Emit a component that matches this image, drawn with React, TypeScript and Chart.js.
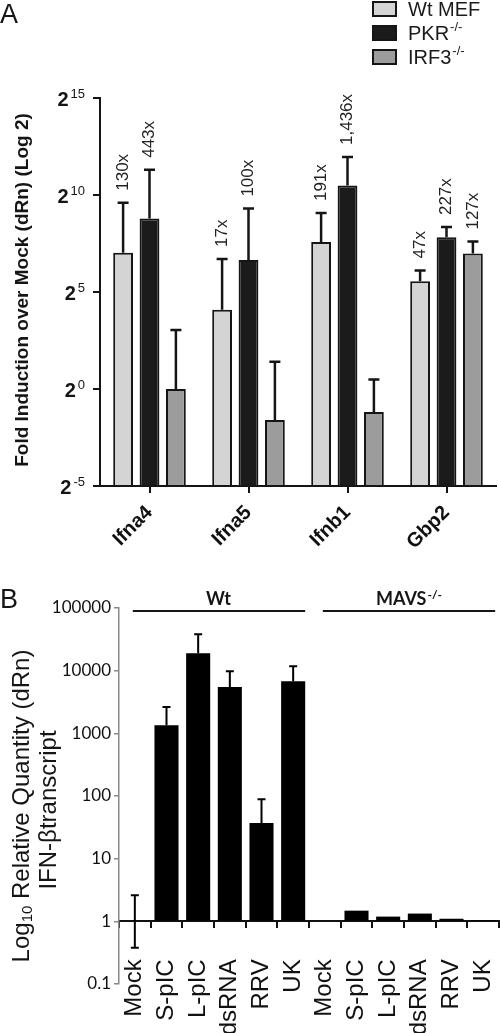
import React, { useEffect, useRef } from 'react';
import { Chart, registerables } from 'chart.js';

Chart.register(...registerables);

// ---------- Panel A data ----------
const genesA = ['Ifna4', 'Ifna5', 'Ifnb1', 'Gbp2'];
const seriesNamesA = ['Wt MEF', 'PKR-/-', 'IRF3-/-'];
const wtFold = [130, 17, 191, 47];
const wtErrHigh = [776, 104, 537, 69];
const pkrFold = [443, 100, 1436, 227];
const pkrErrHigh = [2520, 630, 3980, 326];
const irf3Fold = [1, 0.33, 0.44, 127];
const irf3ErrHigh = [8.2, 2.64, 1.41, 194];
const wtNotes = ['130x', '17x', '191x', '47x'];
const pkrNotes = ['443x', '100x', '1,436x', '227x'];
const irf3Notes = ['', '', '', '127x'];
const log2Exponents = [-5, 0, 5, 10, 15];
const yTitleA = 'Fold Induction over Mock (dRn) (Log 2)';

// ---------- Panel B data ----------
const treatmentsB = ['Mock', 'S-pIC', 'L-pIC', 'dsRNA', 'RRV', 'UK', 'Mock', 'S-pIC', 'L-pIC', 'dsRNA', 'RRV', 'UK'];
const ifnbQuantity = [1, 1350, 19000, 5500, 37, 6800, 1, 1.48, 1.19, 1.33, 1.1, 1.05];
const ifnbErrHigh = [2.6, 2630, 38000, 9800, 89, 11800, null, null, null, null, null, null];
const ifnbErrLow = [0.38, null, null, null, null, null, null, null, null, null, null, null];
const log10TicksB = [0.1, 1, 10, 100, 1000, 10000, 100000];
const log10TickLabelsB = ['0.1', '1', '10', '100', '1000', '10000', '100000'];
const groupNamesB = ['Wt', 'MAVS-/-'];
const groupStartB = [0, 6];
const groupEndB = [5, 11];

const ARIAL = "'Liberation Sans', Arial, sans-serif";
const CALIBRI = "Lato, 'Open Sans', sans-serif";
const INK = '#151515';

function splitSup(text: string): [string, string] {
  const i = text.indexOf('-/-');
  return i >= 0 ? [text.slice(0, i), text.slice(i)] : [text, ''];
}

function drawSupText(ctx: CanvasRenderingContext2D, text: string, x: number, y: number, font: string, supFont: string, rise: number, align: 'left' | 'center') {
  const [base, sup] = splitSup(text);
  ctx.font = font;
  const wb = ctx.measureText(base).width;
  ctx.font = supFont;
  const ws = sup ? ctx.measureText(sup).width : 0;
  const sx = align === 'center' ? x - (wb + ws + 1) / 2 : x;
  ctx.textAlign = 'left';
  ctx.font = font;
  ctx.fillText(base, sx, y);
  if (sup) {
    ctx.font = supFont;
    ctx.fillText(sup, sx + wb + 1, y - rise);
  }
}

const errorBarPlugin = {
  id: 'errorBars',
  afterDatasetsDraw(chart: any, _args: any, opts: any) {
    const { ctx } = chart;
    const yScale = chart.scales.y;
    const cap = opts.cap ?? 10;
    ctx.save();
    ctx.strokeStyle = opts.color ?? INK;
    ctx.lineWidth = opts.width ?? 2;
    chart.data.datasets.forEach((ds: any, di: number) => {
      const meta = chart.getDatasetMeta(di);
      meta.data.forEach((bar: any, i: number) => {
        const hi = ds.errHigh ? ds.errHigh[i] : null;
        const lo = ds.errLow ? ds.errLow[i] : null;
        const cx = bar.x;
        [hi, lo].forEach((v) => {
          if (v == null) return;
          const py = yScale.getPixelForValue(v);
          ctx.beginPath();
          ctx.moveTo(cx, bar.y);
          ctx.lineTo(cx, py);
          ctx.moveTo(cx - cap / 2, py);
          ctx.lineTo(cx + cap / 2, py);
          ctx.stroke();
        });
      });
    });
    ctx.restore();
  },
};

const panelAPlugin = {
  id: 'panelA',
  afterDraw(chart: any) {
    const { ctx } = chart;
    const yScale = chart.scales.y;
    ctx.save();
    ctx.fillStyle = INK;
    ctx.font = `27px ${ARIAL}`;
    ctx.textAlign = 'left';
    ctx.textBaseline = 'alphabetic';
    ctx.fillText('A', 0, 23);

    // y tick labels 2^n
    const rightEdge = yScale.left + 85;
    log2Exponents.forEach((e) => {
      const py = yScale.getPixelForValue(Math.pow(2, e));
      const exp = String(e);
      ctx.textBaseline = 'middle';
      ctx.textAlign = 'right';
      ctx.font = `13px ${ARIAL}`;
      const we = ctx.measureText(exp).width;
      ctx.fillText(exp, rightEdge, py - 4);
      ctx.font = `bold 20px ${ARIAL}`;
      ctx.fillText('2', rightEdge - we - 2, py + 2);
    });

    // y title
    ctx.save();
    ctx.translate(23, (yScale.top + yScale.bottom) / 2 - 2);
    ctx.rotate(-Math.PI / 2);
    ctx.font = `bold 19px ${ARIAL}`;
    ctx.textAlign = 'center';
    ctx.textBaseline = 'middle';
    ctx.fillText(yTitleA, 0, 0);
    ctx.restore();

    // fold annotations
    chart.data.datasets.forEach((ds: any, di: number) => {
      const meta = chart.getDatasetMeta(di);
      meta.data.forEach((bar: any, i: number) => {
        const note = ds.notes ? ds.notes[i] : '';
        if (!note) return;
        const top = yScale.getPixelForValue(ds.errHigh[i]);
        ctx.save();
        ctx.translate(bar.x, top - 12);
        ctx.rotate(-Math.PI / 2);
        ctx.font = `17px ${ARIAL}`;
        ctx.textAlign = 'left';
        ctx.textBaseline = 'middle';
        ctx.fillStyle = '#222';
        ctx.fillText(note, 0, 0);
        ctx.restore();
      });
    });

    // legend
    chart.data.datasets.forEach((ds: any, di: number) => {
      const bx = 372;
      const by = 1 + di * 24;
      ctx.fillStyle = ds.backgroundColor;
      ctx.fillRect(bx, by, 25, 16);
      ctx.strokeStyle = INK;
      ctx.lineWidth = 2;
      ctx.strokeRect(bx + 1, by + 1, 23, 14);
      ctx.fillStyle = '#1a1a1a';
      ctx.textBaseline = 'middle';
      drawSupText(ctx, ds.label, 408, by + 9, `20px ${ARIAL}`, `13px ${ARIAL}`, 7, 'left');
    });
    ctx.restore();
  },
};

const panelBPlugin = {
  id: 'panelB',
  afterDraw(chart: any) {
    const { ctx } = chart;
    const xScale = chart.scales.x;
    const yScale = chart.scales.y;
    ctx.save();
    ctx.fillStyle = INK;
    ctx.font = `27px ${ARIAL}`;
    ctx.textAlign = 'left';
    ctx.textBaseline = 'alphabetic';
    ctx.fillText('B', 0, 43);

    // group brackets
    const lineY = yScale.top + 3;
    groupNamesB.forEach((name, gi) => {
      const x0 = xScale.getPixelForValue(groupStartB[gi]) - 2;
      const x1 = xScale.getPixelForValue(groupEndB[gi]) + 12;
      ctx.strokeStyle = INK;
      ctx.lineWidth = 2;
      ctx.beginPath();
      ctx.moveTo(x0, lineY);
      ctx.lineTo(x1, lineY);
      ctx.stroke();
      ctx.fillStyle = INK;
      ctx.textBaseline = 'alphabetic';
      drawSupText(ctx, name, (x0 + x1) / 2, lineY - 6, `bold 18px ${CALIBRI}`, `bold 12px ${CALIBRI}`, 6, 'center');
    });

    // y title (two lines, first with subscript)
    const cy = (yScale.top + yScale.bottom) / 2 + 10;
    ctx.save();
    ctx.translate(22, cy);
    ctx.rotate(-Math.PI / 2);
    ctx.textBaseline = 'middle';
    ctx.textAlign = 'left';
    const big = `24px ${ARIAL}`;
    const small = `15px ${ARIAL}`;
    const parts: [string, string, number][] = [['Log', big, 0], ['10', small, 6], [' Relative Quantity (dRn)', big, 0]];
    let total = 0;
    parts.forEach(([t, f]) => { ctx.font = f; total += ctx.measureText(t).width; });
    let px = -total / 2;
    parts.forEach(([t, f, dy]) => {
      ctx.font = f;
      ctx.fillText(t, px, dy);
      px += ctx.measureText(t).width;
    });
    ctx.restore();

    ctx.save();
    ctx.translate(49, cy + 4);
    ctx.rotate(-Math.PI / 2);
    ctx.font = big;
    ctx.textAlign = 'center';
    ctx.textBaseline = 'middle';
    ctx.fillText('IFN-\u03B2transcript', 0, 0);
    ctx.restore();
    ctx.restore();
  },
};

export default function App() {
  const refA = useRef<HTMLCanvasElement>(null);
  const refB = useRef<HTMLCanvasElement>(null);

  useEffect(() => {
    const chartA = new Chart(refA.current as HTMLCanvasElement, {
      type: 'bar',
      data: {
        labels: genesA,
        datasets: [
          { label: seriesNamesA[0], data: wtFold, backgroundColor: '#d4d4d4', errHigh: wtErrHigh, notes: wtNotes } as any,
          { label: seriesNamesA[1], data: pkrFold, backgroundColor: '#1b1b1b', errHigh: pkrErrHigh, notes: pkrNotes } as any,
          { label: seriesNamesA[2], data: irf3Fold, backgroundColor: '#9c9c9c', errHigh: irf3ErrHigh, notes: irf3Notes } as any,
        ],
      },
      options: {
        responsive: false,
        animation: false,
        devicePixelRatio: 1,
        layout: { padding: { top: 98, right: 4, left: 0, bottom: 0 } },
        datasets: {
          bar: {
            categoryPercentage: 0.8,
            barPercentage: 0.75,
            borderColor: INK,
            borderWidth: 2,
            base: Math.pow(2, -5),
          } as any,
        },
        plugins: {
          legend: { display: false },
          tooltip: { enabled: false },
          errorBars: { color: INK, width: 2.5, cap: 11 },
        } as any,
        scales: {
          x: {
            type: 'category',
            offset: true,
            grid: { offset: false, drawOnChartArea: false, drawTicks: true, tickLength: 7, color: INK, lineWidth: 2 },
            border: { color: INK, width: 2 },
            ticks: {
              font: { family: ARIAL, size: 20, weight: 'bold' },
              color: '#111',
              minRotation: 45,
              maxRotation: 45,
              padding: 8,
              autoSkip: false,
            },
            afterFit: (s: any) => { s.height = 79; s.paddingLeft = 0; s.paddingRight = 0; },
          },
          y: {
            type: 'logarithmic',
            min: Math.pow(2, -5),
            max: Math.pow(2, 15),
            afterBuildTicks: (s: any) => { s.ticks = log2Exponents.map((e) => ({ value: Math.pow(2, e) })); },
            ticks: { display: false },
            grid: { drawOnChartArea: false, drawTicks: true, tickLength: 7, color: INK, lineWidth: 2 },
            border: { color: INK, width: 2 },
            afterFit: (s: any) => { s.width = 100; },
          },
        } as any,
      },
      plugins: [errorBarPlugin, panelAPlugin],
    } as any);

    const chartB = new Chart(refB.current as HTMLCanvasElement, {
      type: 'bar',
      data: {
        labels: treatmentsB,
        datasets: [
          { label: 'IFN-\u03B2', data: ifnbQuantity, backgroundColor: '#000', errHigh: ifnbErrHigh, errLow: ifnbErrLow } as any,
        ],
      },
      options: {
        responsive: false,
        animation: false,
        devicePixelRatio: 1,
        layout: { padding: { top: 43, right: 1, left: 0, bottom: 49 } },
        datasets: {
          bar: { categoryPercentage: 1, barPercentage: 0.76, base: 1, borderWidth: 0 } as any,
        },
        plugins: {
          legend: { display: false },
          tooltip: { enabled: false },
          errorBars: { color: '#000', width: 2, cap: 8 },
        } as any,
        scales: {
          x: {
            type: 'category',
            position: { y: 1 },
            offset: true,
            grid: { offset: true, drawOnChartArea: false, drawTicks: true, tickLength: 6, color: '#111', lineWidth: 2 },
            border: { color: '#111', width: 2 },
            ticks: {
              font: { family: ARIAL, size: 24 },
              color: '#111',
              minRotation: 90,
              maxRotation: 90,
              padding: 32,
              autoSkip: false,
            },
            afterFit: (s: any) => { s.paddingLeft = 0; s.paddingRight = 0; },
          },
          y: {
            type: 'logarithmic',
            min: 0.1,
            max: 100000,
            afterBuildTicks: (s: any) => { s.ticks = log10TicksB.map((v) => ({ value: v })); },
            ticks: {
              font: { family: CALIBRI, size: 17 },
              color: '#111',
              padding: 3,
              callback: (v: any) => {
                const idx = log10TicksB.findIndex((t) => Math.abs(t - v) / t < 1e-6);
                return idx >= 0 ? log10TickLabelsB[idx] : '';
              },
            },
            grid: { drawOnChartArea: false, drawTicks: true, tickLength: 5, color: '#888', lineWidth: 1.5 },
            border: { color: '#888', width: 1.5 },
            afterFit: (s: any) => { s.width = 119; },
          },
        } as any,
      },
      plugins: [errorBarPlugin, panelBPlugin],
    } as any);

    return () => {
      chartA.destroy();
      chartB.destroy();
    };
  }, []);

  return (
    <div style={{ position: 'absolute', left: 0, top: 0, width: 500, height: 1033, background: '#fff' }}>
      <canvas ref={refA} width={500} height={565} style={{ position: 'absolute', left: 0, top: 0, width: 500, height: 565 }} />
      <canvas ref={refB} width={500} height={468} style={{ position: 'absolute', left: 0, top: 565, width: 500, height: 468 }} />
    </div>
  );
}
